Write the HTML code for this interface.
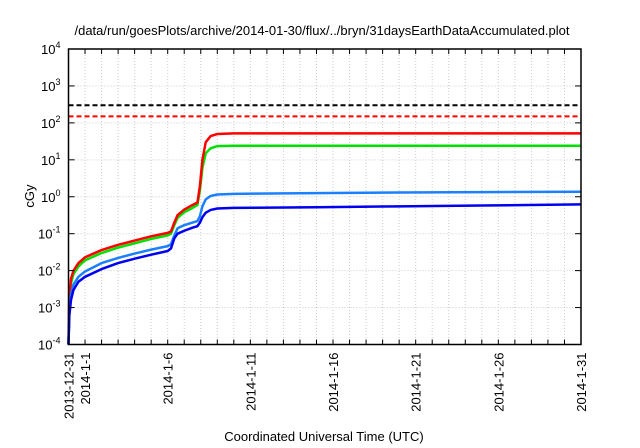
<!DOCTYPE html>
<html><head><meta charset="utf-8"><style>
body{margin:0;background:#fff;}
svg{display:block;font-family:"Liberation Sans",sans-serif;}
</style></head><body>
<svg id="chart" width="640" height="448">
<text x="322" y="35" font-size="13" text-anchor="middle">/data/run/goesPlots/archive/2014-01-30/flux/../bryn/31daysEarthDataAccumulated.plot</text>
<text x="324" y="441" font-size="13" text-anchor="middle">Coordinated Universal Time (UTC)</text>
<text x="0" y="0" font-size="13" text-anchor="middle" transform="translate(34,196) rotate(-90)">cGy</text>
<g id="grid"></g><g id="series"></g><g id="axes"></g>
</svg>
<script>
const tickDays=[0,1,6,11,16,21,26,31];
const tickLabels=["2013-12-31","2014-1-1","2014-1-6","2014-1-11","2014-1-16","2014-1-21","2014-1-26","2014-1-31"];
const yExps=[-4,-3,-2,-1,0,1,2,3,4];
const days=[0,0.05,0.15,0.3,0.6,1,2,3,4,5,6,6.2,6.4,6.6,7,7.5,7.8,7.95,8.1,8.3,8.6,9,10,15,20,25,31];
const redVals=[0.0001,0.002,0.006,0.01,0.016,0.023,0.036,0.05,0.065,0.085,0.105,0.115,0.2,0.32,0.45,0.6,0.7,2,10,30,44,50,52,52,52,52,52];
const greenVals=[0.0001,0.0015,0.0045,0.008,0.013,0.019,0.03,0.042,0.055,0.072,0.09,0.1,0.17,0.27,0.38,0.5,0.6,1.5,6,15,20.5,23.5,24,24,24,24,24];
const lightBlueVals=[0.0001,0.0008,0.0022,0.0042,0.0068,0.0095,0.016,0.022,0.029,0.037,0.046,0.052,0.09,0.14,0.17,0.2,0.22,0.3,0.55,0.85,1.05,1.15,1.2,1.25,1.3,1.33,1.37];
const darkBlueVals=[0.0001,0.0006,0.0016,0.003,0.005,0.0068,0.011,0.016,0.021,0.027,0.034,0.04,0.075,0.1,0.12,0.145,0.16,0.2,0.28,0.37,0.44,0.48,0.5,0.52,0.55,0.58,0.62];
const thresholds=[300,150];
const NS="http://www.w3.org/2000/svg";
const X0=68.5,X1=581,Y0=344.5,Y1=49,DMAX=31,EMIN=-4,EMAX=4;
const xs=d=>X0+(X1-X0)*d/DMAX;
const ys=v=>Y0-(Y0-Y1)*(Math.log10(v)-EMIN)/(EMAX-EMIN);
function mk(tag,attrs,parent){const e=document.createElementNS(NS,tag);for(const k in attrs)e.setAttribute(k,attrs[k]);parent.appendChild(e);return e;}
const grid=document.getElementById('grid'),ser=document.getElementById('series'),ax=document.getElementById('axes');
for(let d=1;d<DMAX;d++){const l=mk('line',{x1:xs(d),x2:xs(d),y1:Y1,y2:Y0,stroke:'#ccc','stroke-dasharray':'1,2'},grid);

for(const [a,b] of [[Y0,Y0-5],[Y1,Y1+5]]){const t=mk('line',{x1:xs(d),x2:xs(d),y1:a,y2:b,stroke:'#000'},ax);}}
yExps.forEach(e=>{const y=ys(Math.pow(10,e));
if(e>EMIN&&e<EMAX){const l=mk('line',{x1:X0,x2:X1,y1:y,y2:y,stroke:'#ccc','stroke-dasharray':'1,2'},grid);}
const t=mk('line',{x1:X0,x2:X0+6,y1:y,y2:y,stroke:'#000'},ax);
const t2=mk('line',{x1:X1,x2:X1-6,y1:y,y2:y,stroke:'#000'},ax);
const tx=mk('text',{x:X0-8,y:y+5,'font-size':13,'text-anchor':'end'},ax);
tx.textContent='10';const s=mk('tspan',{dy:-6,'font-size':9},tx);s.textContent=String(e);});
tickDays.forEach((d,i)=>{const tx=mk('text',{x:0,y:0,'font-size':13,'text-anchor':'end',transform:`translate(${xs(d)+5},${Y0+8}) rotate(-90)`},ax);
tx.textContent=tickLabels[i];});
const colors=['#000','#f00'];
thresholds.forEach((v,i)=>{const l=mk('line',{x1:X0,x2:X1,y1:ys(v),y2:ys(v),stroke:colors[i],'stroke-width':2,'stroke-dasharray':'5,3'},ser);
});
[[greenVals,'#00e000','green-series'],[redVals,'#f00','red-series'],[lightBlueVals,'#1a80ff','light-blue-series'],[darkBlueVals,'#0000f0','dark-blue-series']].forEach(([vals,c,n])=>{
const p=mk('polyline',{points:days.map((d,i)=>xs(d)+','+ys(vals[i])).join(' '),fill:'none',stroke:c,'stroke-width':2.5,'stroke-linejoin':'round'},ser);
});
const b=mk('rect',{x:X0,y:Y1,width:X1-X0,height:Y0-Y1,fill:'none',stroke:'#000','stroke-width':1.5},ax);

</script>
</body></html>
